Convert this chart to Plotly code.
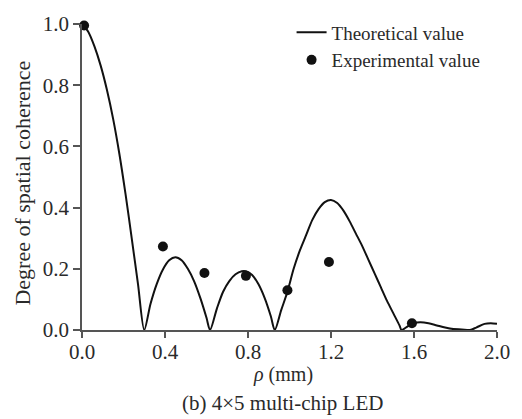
import plotly.graph_objects as go

# Theoretical curve
theo_x = [0.0, 0.03, 0.06, 0.09, 0.12, 0.15, 0.18, 0.21, 0.24, 0.27, 0.30,
          0.33, 0.36, 0.39, 0.42, 0.45, 0.48, 0.51, 0.54, 0.57, 0.60, 0.617,
          0.65, 0.68, 0.71, 0.74, 0.77, 0.79, 0.82, 0.85, 0.88, 0.91, 0.929,
          0.96, 0.99, 1.02, 1.05, 1.08, 1.11, 1.14, 1.17, 1.20, 1.23, 1.26,
          1.29, 1.32, 1.35, 1.38, 1.41, 1.44, 1.47, 1.50, 1.53, 1.54,
          1.57, 1.60, 1.63, 1.67, 1.71, 1.75, 1.79, 1.83, 1.87, 1.90, 1.94,
          1.97, 2.0]
theo_y = [1.0, 0.975, 0.927, 0.864, 0.785, 0.69, 0.576, 0.443, 0.298, 0.149, 0.0,
          0.085, 0.15, 0.198, 0.228, 0.238, 0.228, 0.20, 0.16, 0.105, 0.04, 0.0,
          0.07, 0.125, 0.16, 0.182, 0.192, 0.192, 0.18, 0.15, 0.105, 0.045, 0.0,
          0.065, 0.125, 0.20, 0.26, 0.31, 0.36, 0.395, 0.418, 0.425, 0.415, 0.39,
          0.355, 0.315, 0.275, 0.23, 0.185, 0.14, 0.095, 0.055, 0.015, 0.0,
          0.012, 0.022, 0.025, 0.022, 0.015, 0.008, 0.003, 0.002, 0.0, 0.008, 0.02,
          0.022, 0.02]

# Experimental points
exp_x = [0.01, 0.39, 0.59, 0.79, 0.99, 1.19, 1.59]
exp_y = [0.995, 0.273, 0.186, 0.177, 0.13, 0.222, 0.022]

x_ticks = [0.0, 0.4, 0.8, 1.2, 1.6, 2.0]
y_ticks = [0.0, 0.2, 0.4, 0.6, 0.8, 1.0]

FONT = "Liberation Serif"
TXT = "#2a2a2a"
AX = "#555555"

fig = go.Figure()
fig.add_trace(go.Scatter(
    x=theo_x, y=theo_y, mode="lines", name="Theoretical value",
    line=dict(color="#111111", width=2, shape="spline", smoothing=0.8),
))
fig.add_trace(go.Scatter(
    x=exp_x, y=exp_y, mode="markers", name="Experimental value",
    marker=dict(color="#111111", size=10), cliponaxis=False,
))

fig.update_layout(
    width=522, height=419,
    margin=dict(l=82, r=22, t=17, b=89),
    plot_bgcolor="white", paper_bgcolor="white",
    font=dict(family=FONT, color=TXT, size=21),
    showlegend=True,
    legend=dict(x=0.505, y=1.035, xanchor="left", yanchor="top",
                font=dict(family=FONT, size=19, color=TXT),
                bgcolor="rgba(0,0,0,0)",
                tracegroupgap=0, itemwidth=30),
    xaxis=dict(range=[0, 2.0], tickvals=x_ticks, tickformat=".1f",
               showgrid=False, zeroline=False, showline=True,
               linecolor=AX, linewidth=1.5, ticks="outside", ticklen=6,
               tickcolor=AX, tickwidth=1.5, ticklabelstandoff=-4,
               tickfont=dict(family=FONT, size=21, color=TXT)),
    yaxis=dict(range=[0, 1.0], tickvals=y_ticks, tickformat=".1f",
               showgrid=False, zeroline=False, showline=True,
               linecolor=AX, linewidth=1.5, ticks="outside", ticklen=7,
               tickcolor=AX, tickwidth=1.5,
               tickfont=dict(family=FONT, size=21, color=TXT)),
    annotations=[
        dict(text="Degree of spatial coherence", xref="paper", yref="paper",
             x=-0.1435, y=0.48, textangle=-90, showarrow=False,
             xanchor="center", yanchor="middle",
             font=dict(family=FONT, size=22, color=TXT)),
        dict(text="<i>ρ</i> (mm)", xref="paper", yref="paper",
             x=0.484, y=-0.146, showarrow=False,
             xanchor="center", yanchor="middle",
             font=dict(family=FONT, size=20, color=TXT)),
        dict(text="(b) 4×5 multi-chip LED", xref="paper", yref="paper",
             x=0.484, y=-0.24, showarrow=False,
             xanchor="center", yanchor="middle",
             font=dict(family=FONT, size=21, color=TXT)),
    ],
)

fig.write_html("out.html")
